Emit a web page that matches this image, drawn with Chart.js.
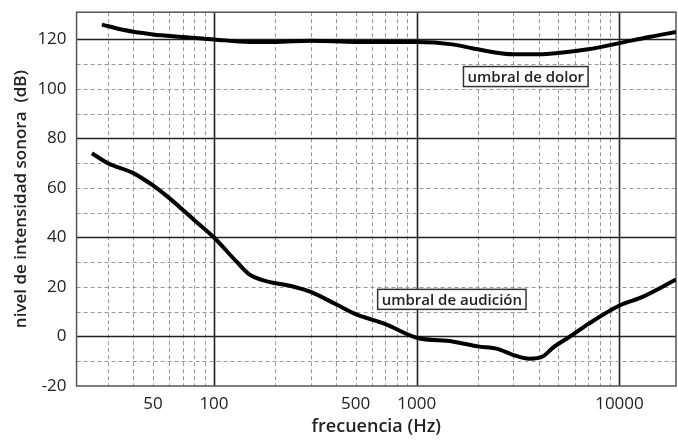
<!DOCTYPE html>
<html>
<head>
<meta charset="utf-8">
<script src="https://cdn.jsdelivr.net/npm/chart.js@4"></script>
<style>
  body { margin: 0; background: #fff; }
  #wrap { width: 678px; height: 440px; }
</style>
</head>
<body>
<div id="wrap"><canvas id="chart"></canvas></div>
<script>
// Data
const dolorFreq = [28, 35, 50, 70, 100, 150, 200, 300, 500, 700, 1000, 1500, 2000, 3000, 4000, 5000, 7000, 10000, 14000, 19000];
const dolorDb   = [126, 124, 122, 121, 120, 119, 119, 119.5, 119, 119, 119, 118, 116, 114, 114, 114.5, 116, 118.5, 121, 123];
const audFreq = [25, 30, 40, 50, 60, 80, 100, 130, 150, 170, 250, 300, 400, 500, 700, 1000, 1500, 2000, 2500, 3000, 3600, 4200, 4700, 5700, 7000, 10000, 13000, 19000];
const audDb   = [74, 70, 66, 61, 56, 47, 40, 30, 25, 23, 20, 18, 13, 9, 5, -0.5, -2, -4, -5, -7.5, -9, -8, -4.5, 0, 5, 12.5, 16, 23];
const xLabels = [50, 100, 500, 1000, 10000];
const yLabels = [-20, 0, 20, 40, 60, 80, 100, 120];

const pts = (xs, ys) => xs.map((x, i) => ({ x: x, y: ys[i] }));
const FONT = '"Open Sans"';

// grid drawn by hand: solid at decades / every 40 dB, dashed elsewhere
const gridPlugin = {
  id: 'grid',
  beforeDatasetsDraw(chart) {
    const { ctx, chartArea: a, scales: { x, y } } = chart;
    ctx.save();
    for (let d = 10; d <= 10000; d *= 10) {
      for (let m = 1; m < 10; m++) {
        const f = d * m;
        if (f < x.min || f > x.max) continue;
        const px = Math.round(x.getPixelForValue(f)) + 0.5;
        const major = m === 1;
        ctx.strokeStyle = major ? '#222' : '#999';
        ctx.lineWidth = major ? 1.6 : 1;
        ctx.setLineDash(major ? [] : [4, 3]);
        ctx.beginPath(); ctx.moveTo(px, a.top); ctx.lineTo(px, a.bottom); ctx.stroke();
      }
    }
    for (let v = -10; v <= 120; v += 10) {
      const py = Math.round(y.getPixelForValue(v)) + 0.5;
      const major = v % 40 === 0;
      ctx.strokeStyle = major ? '#222' : '#999';
      ctx.lineWidth = major ? 1.6 : 1;
      ctx.setLineDash(major ? [] : [4, 3]);
      ctx.beginPath(); ctx.moveTo(a.left, py); ctx.lineTo(a.right, py); ctx.stroke();
    }
    ctx.setLineDash([]);
    ctx.strokeStyle = '#555';
    ctx.lineWidth = 1.5;
    ctx.strokeRect(a.left, a.top, a.right - a.left, a.bottom - a.top);
    ctx.restore();
  }
};

// boxed curve labels
const boxLabels = [
  { text: 'umbral de dolor', f: 3450, db: 105 },
  { text: 'umbral de audición', f: 1490, db: 15 }
];
const labelPlugin = {
  id: 'boxLabels',
  afterDatasetsDraw(chart) {
    const { ctx, scales: { x, y } } = chart;
    ctx.save();
    ctx.font = '600 15px ' + FONT;
    ctx.textAlign = 'center';
    ctx.textBaseline = 'middle';
    boxLabels.forEach(l => {
      const cx = x.getPixelForValue(l.f), cy = y.getPixelForValue(l.db);
      const w = ctx.measureText(l.text).width + 8, h = 20;
      ctx.fillStyle = '#fff';
      ctx.fillRect(cx - w / 2, cy - h / 2, w, h);
      ctx.strokeStyle = '#333';
      ctx.lineWidth = 1.5;
      ctx.strokeRect(cx - w / 2, cy - h / 2, w, h);
      ctx.fillStyle = '#222';
      ctx.fillText(l.text, cx, cy + 1);
    });
    ctx.restore();
  }
};

new Chart(document.getElementById('chart'), {
  type: 'line',
  data: {
    datasets: [
      { data: pts(dolorFreq, dolorDb), borderColor: '#000', borderWidth: 4, pointRadius: 0, cubicInterpolationMode: 'monotone' },
      { data: pts(audFreq, audDb), borderColor: '#000', borderWidth: 4, pointRadius: 0, cubicInterpolationMode: 'monotone' }
    ]
  },
  options: {
    responsive: true,
    maintainAspectRatio: false,
    animation: false,
    layout: { padding: { top: 10, right: 2, left: 11, bottom: 2 } },
    plugins: { legend: { display: false }, tooltip: { enabled: false } },
    scales: {
      x: {
        type: 'logarithmic',
        min: 21, max: 19000,
        afterBuildTicks: s => { s.ticks = xLabels.map(v => ({ value: v })); },
        ticks: { autoSkip: false, maxRotation: 0, padding: 0, color: '#222', font: { family: FONT, size: 17, weight: 500 }, callback: v => String(v) },
        grid: { display: false },
        border: { display: false },
        title: { display: true, text: 'frecuencia (Hz)', color: '#222', padding: { top: 2, bottom: 0 }, font: { family: FONT, size: 18, weight: 600 } }
      },
      y: {
        min: -20, max: 131,
        afterBuildTicks: s => { s.ticks = yLabels.map(v => ({ value: v })); },
        ticks: { padding: 2, color: '#222', font: { family: FONT, size: 17, weight: 500 } },
        grid: { display: false },
        border: { display: false },
        title: { display: true, text: 'nivel de intensidad sonora  (dB)', color: '#222', padding: { top: 0, bottom: 4 }, font: { family: FONT, size: 17, weight: 600 } }
      }
    }
  },
  plugins: [gridPlugin, labelPlugin]
});
</script>
</body>
</html>
